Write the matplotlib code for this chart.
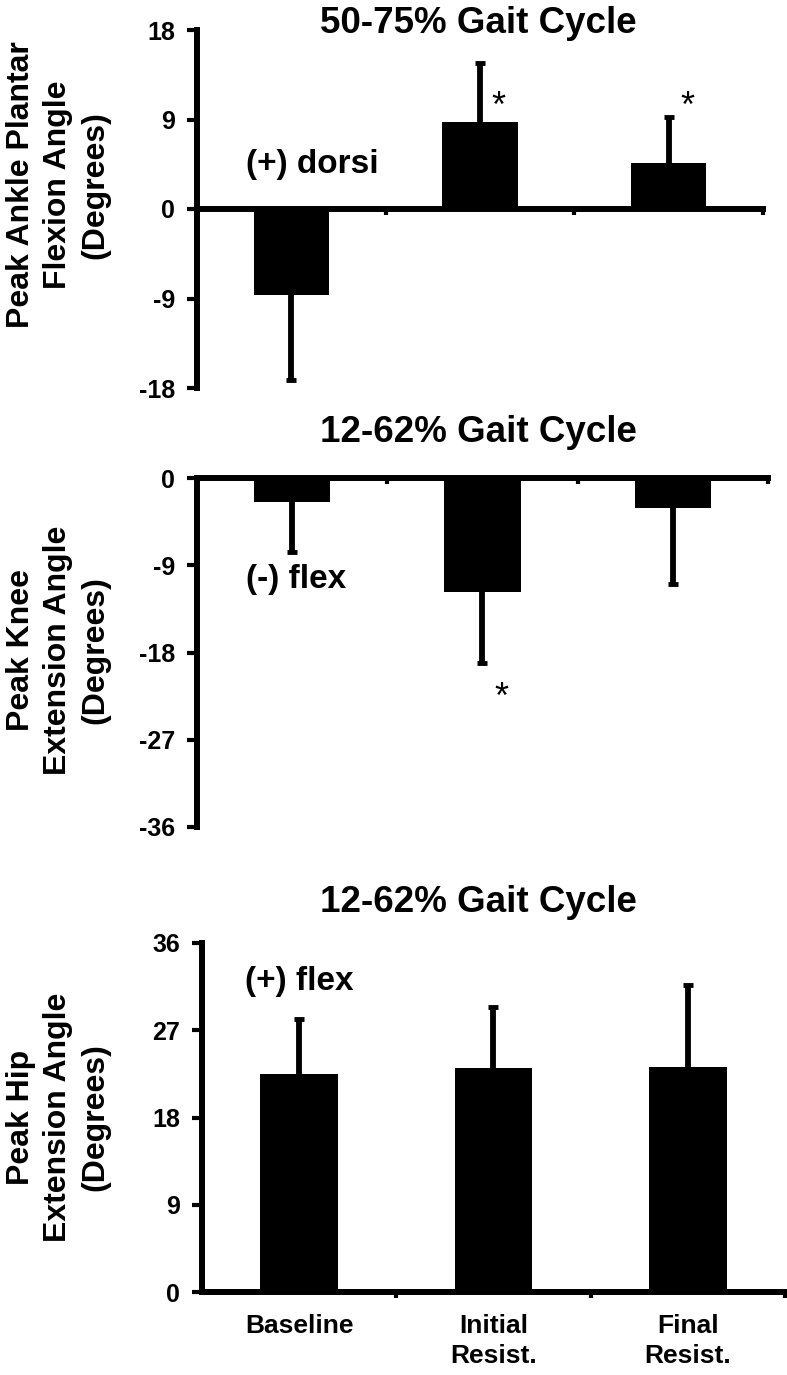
import matplotlib
matplotlib.use('Agg')
from matplotlib import pyplot as plt

plt.rcParams['font.family'] = ['Liberation Sans', 'DejaVu Sans']
plt.rcParams['font.weight'] = 'bold'
plt.rcParams['axes.unicode_minus'] = False

groups = ['Baseline', 'Initial\nResist.', 'Final\nResist.']

ankle_mean = [-8.6, 8.7, 4.65]
ankle_sd = [8.6, 6.0, 4.65]
knee_mean = [-2.5, -11.8, -3.1]
knee_sd = [5.1, 7.3, 7.8]
hip_mean = [22.5, 23.1, 23.2]
hip_sd = [5.7, 6.3, 8.5]

titles = ['50-75% Gait Cycle', '12-62% Gait Cycle', '12-62% Gait Cycle']
ylabels = ['Peak Ankle Plantar\nFlexion Angle\n(Degrees)',
           'Peak Knee\nExtension Angle\n(Degrees)',
           'Peak Hip\nExtension Angle\n(Degrees)']
yticks = [[-18, -9, 0, 9, 18], [-36, -27, -18, -9, 0], [0, 9, 18, 27, 36]]
notes = ['(+) dorsi', '(-) flex', '(+) flex']
note_pos = [(0.11, 4.5), (0.02, -10.5), (0.0, 32)]
# significance stars: (group index, y value)
stars = [[(1, 10.2), (2, 10.2)], [(1, -22.7)], []]

panels = [(ankle_mean, ankle_sd), (knee_mean, knee_sd), (hip_mean, hip_sd)]

W, H = 787, 1375
# axes boxes in pixels: left, top, right, bottom
boxes = [(197, 30, 763, 388), (197, 478, 768, 827), (202, 943, 785, 1292)]
title_y = [33, 442, 912]
label_y = [185, 650, 1117]

fig = plt.figure(figsize=(W / 100, H / 100), dpi=100)

for i, (means, sds) in enumerate(panels):
    l, t, r, b = boxes[i]
    ax = fig.add_axes([l / W, 1 - b / H, (r - l) / W, (b - t) / H])
    x = list(range(len(means)))
    ax.bar(x, means, width=0.4, color='black', zorder=3)

    # one-sided error bars, pointing away from zero
    ends = [m + sd if m >= 0 else m - sd for m, sd in zip(means, sds)]
    ax.vlines(x, means, ends, color='black', linewidth=4.2, zorder=2)
    ax.plot(x, ends, linestyle='none', marker='_', markersize=7.5,
            markeredgewidth=3.5, color='black', zorder=2)

    ax.set_xlim(-0.5, 2.5)
    ax.set_ylim(min(yticks[i]), max(yticks[i]))
    ax.set_yticks(yticks[i])
    ax.tick_params(axis='y', length=7, width=3, pad=9, labelsize=18)

    for side in ['top', 'right']:
        ax.spines[side].set_visible(False)
    ax.spines['bottom'].set_position(('data', 0))
    ax.spines['left'].set_linewidth(4.3)
    ax.spines['bottom'].set_linewidth(4.3)
    ax.spines['bottom'].set_zorder(4)

    ax.set_xticks(x)
    ax.set_xticks([0.5, 1.5, 2.5], minor=True)
    ax.tick_params(axis='x', which='minor', length=4, width=3, direction='out')
    ax.tick_params(axis='x', which='major', length=0, pad=16, labelsize=19)
    if i == 2:
        ax.set_xticklabels(groups, linespacing=1.3)
    else:
        ax.set_xticklabels([])

    ax.text(note_pos[i][0], note_pos[i][1], notes[i], ha='center', va='center',
            fontsize=24)
    for g, y in stars[i]:
        ax.text(g + 0.1, y, '*', ha='center', va='center', fontsize=26,
                fontweight='normal')

    fig.text(478 / W, 1 - title_y[i] / H, titles[i], ha='center', va='baseline',
             fontsize=26.5)
    fig.text(58 / W, 1 - label_y[i] / H, ylabels[i], ha='center', va='center',
             rotation=90, fontsize=23, linespacing=1.32)

fig.savefig('out.png', dpi=100)
